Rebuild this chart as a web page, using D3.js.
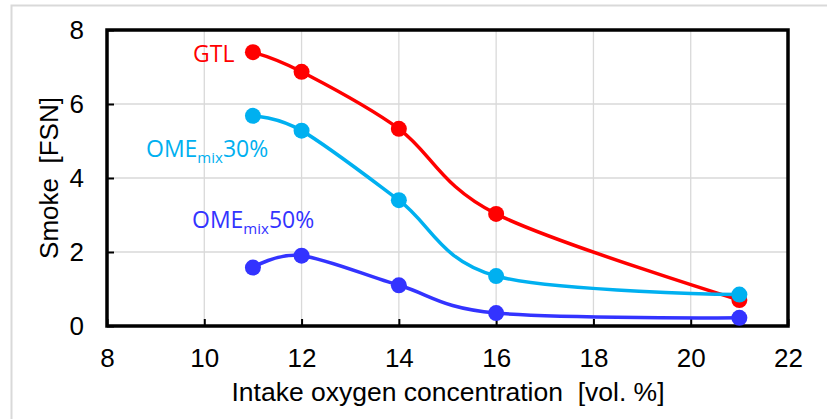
<!DOCTYPE html>
<html>
<head>
<meta charset="utf-8">
<script src="https://cdn.jsdelivr.net/npm/d3@7"></script>
<style>
  body { margin: 0; background: #fff; }
  svg { display: block; }
</style>
</head>
<body>
<div id="chart"></div>
<script>
// oxygen concentration values (x)
var oxygen = [11, 12, 14, 16, 21];

// smoke values per fuel
var gtl = [7.4, 6.87, 5.33, 3.03, 0.7];
var ome30 = [5.68, 5.28, 3.4, 1.35, 0.85];
var ome50 = [1.58, 1.9, 1.1, 0.35, 0.22];

var xTicks = [8, 10, 12, 14, 16, 18, 20, 22];
var yTicks = [0, 2, 4, 6, 8];

var series = [
  { name: "GTL", sub: "", tail: "", values: gtl, color: "#ff0000", lx: 193, ly: 62 },
  { name: "OME", sub: "mix", tail: "30%", values: ome30, color: "#00b0f0", lx: 146, ly: 157 },
  { name: "OME", sub: "mix", tail: "50%", values: ome50, color: "#3333ff", lx: 192, ly: 228 }
];

var W = 827, H = 419;
var margin = { left: 107, top: 30, right: 39, bottom: 93 };
var width = W - margin.left - margin.right;
var height = H - margin.top - margin.bottom;

var svg = d3.select("#chart").append("svg")
  .attr("width", W)
  .attr("height", H);

// outer light frame
svg.append("rect")
  .attr("x", 11.5).attr("y", 5.5)
  .attr("width", 900).attr("height", 500)
  .style("fill", "none")
  .style("stroke", "#d9d9d9")
  .style("stroke-width", 2);

var g = svg.append("g").attr("transform", "translate(" + margin.left + "," + margin.top + ")");

var xScale = d3.scaleLinear().domain([8, 22]).range([0, width]);
var yScale = d3.scaleLinear().domain([0, 8]).range([height, 0]);

// gridlines
g.selectAll(".vgrid")
  .data(xTicks.slice(1, -1))
  .enter().append("line")
  .attr("x1", function (d) { return xScale(d); })
  .attr("x2", function (d) { return xScale(d); })
  .attr("y1", 0).attr("y2", height)
  .style("stroke", "#d9d9d9").style("stroke-width", 1.3);

g.selectAll(".hgrid")
  .data(yTicks.slice(1, -1))
  .enter().append("line")
  .attr("y1", function (d) { return yScale(d); })
  .attr("y2", function (d) { return yScale(d); })
  .attr("x1", 0).attr("x2", width)
  .style("stroke", "#d9d9d9").style("stroke-width", 1.3);

// axes with inside ticks
var xAxis = g.append("g")
  .attr("transform", "translate(0," + height + ")")
  .call(d3.axisBottom(xScale).tickValues(xTicks).tickSize(-7).tickPadding(23).tickSizeOuter(0));

var yAxis = g.append("g")
  .call(d3.axisLeft(yScale).tickValues(yTicks).tickSize(-7).tickPadding(23).tickSizeOuter(0));

[xAxis, yAxis].forEach(function (a) {
  a.select(".domain").remove();
  a.selectAll("line").style("stroke", "#000").style("stroke-width", 2);
  a.selectAll("text")
    .style("font-family", "Liberation Sans, Arial, sans-serif")
    .style("font-size", "26px")
    .style("fill", "#000");
});

// plot box
g.append("rect")
  .attr("x", 0).attr("y", 0)
  .attr("width", width).attr("height", height)
  .style("fill", "none")
  .style("stroke", "#000")
  .style("stroke-width", 3.5);

// lines and markers
var line = d3.line()
  .x(function (d, i) { return xScale(oxygen[i]); })
  .y(function (d) { return yScale(d); })
  .curve(d3.curveCatmullRom.alpha(0));

series.forEach(function (s) {
  g.append("path")
    .datum(s.values)
    .attr("d", line)
    .style("fill", "none")
    .style("stroke", s.color)
    .style("stroke-width", 3.5);

  g.selectAll(null)
    .data(s.values)
    .enter().append("circle")
    .attr("cx", function (d, i) { return xScale(oxygen[i]); })
    .attr("cy", function (d) { return yScale(d); })
    .attr("r", 8)
    .style("fill", s.color);

  var t = svg.append("text")
    .attr("x", s.lx).attr("y", s.ly)
    .style("font-family", "Open Sans, sans-serif")
    .style("font-size", "23px")
    .style("fill", s.color);
  t.append("tspan").text(s.name);
  if (s.sub) {
    t.append("tspan").attr("dy", 6).style("font-size", "15px").text(s.sub);
    t.append("tspan").attr("dy", -6).text(s.tail);
  }
});

// axis titles
svg.append("text")
  .attr("transform", "translate(58,178) rotate(-90)")
  .attr("text-anchor", "middle")
  .style("font-family", "Liberation Sans, Arial, sans-serif")
  .style("font-size", "26px")
  .style("white-space", "pre")
  .text("Smoke  [FSN]");

svg.append("text")
  .attr("x", 448).attr("y", 401)
  .attr("text-anchor", "middle")
  .style("font-family", "Liberation Sans, Arial, sans-serif")
  .style("font-size", "26.5px")
  .style("white-space", "pre")
  .text("Intake oxygen concentration  [vol. %]");
</script>
</body>
</html>
